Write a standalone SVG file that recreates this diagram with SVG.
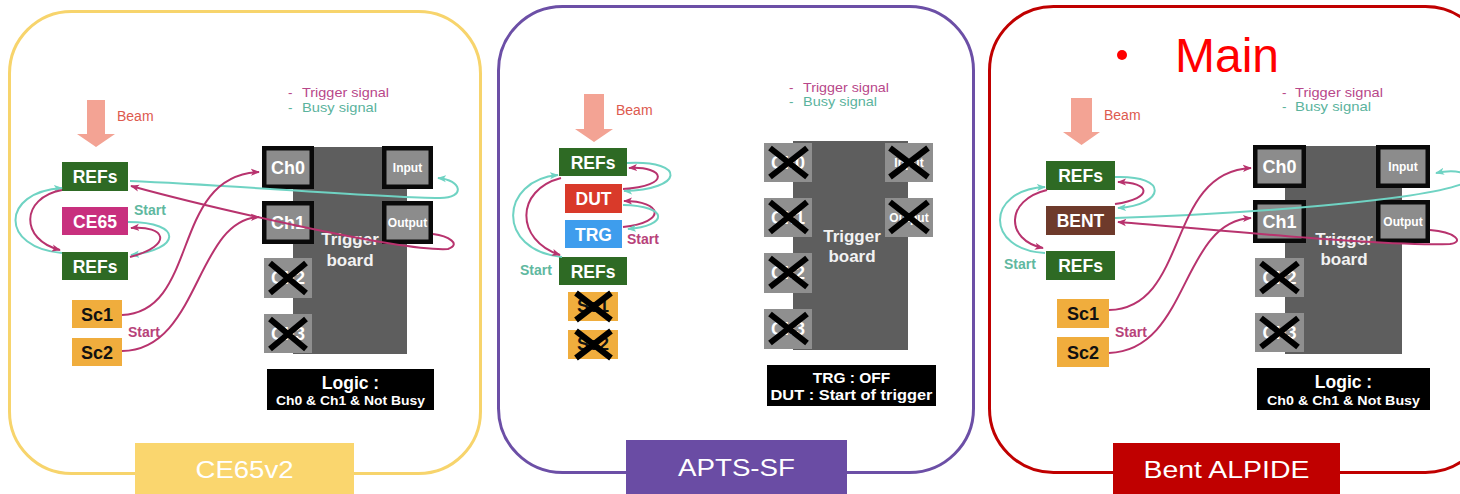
<svg xmlns="http://www.w3.org/2000/svg" width="1460" height="494" viewBox="0 0 1460 494">
  <defs>
    <style>
      text { font-family: "Liberation Sans", Arial, sans-serif; }
      .frame { fill: #ffffff; stroke-width: 3; }
      .title { fill: #ffffff; font-size: 24px; text-anchor: middle; }
      .beam { fill: #f3a394; }
      .beamt { fill: #dd5a4e; font-size: 14px; }
      .nodet { fill: #ffffff; font-size: 17.5px; font-weight: bold; text-anchor: middle; }
      .sct { fill: #111111; font-size: 18px; font-weight: bold; text-anchor: middle; }
      .refs { fill: #2e6a24; }
      .sc { fill: #f0ad3d; }
      .board { fill: #5e5e5e; }
      .pin { fill: #8c8c8c; stroke: #0a0a0a; stroke-width: 4.5; }
      .pinx { fill: #8f8f8f; }
      .pint { fill: #ffffff; font-size: 18px; font-weight: bold; text-anchor: middle; }
      .pins { fill: #ffffff; font-size: 12px; font-weight: bold; text-anchor: middle; }
      .cross { stroke: #000000; stroke-width: 6; }
      .boardt { fill: #f2f2f2; font-size: 17px; font-weight: bold; text-anchor: middle; }
      .logic { fill: #000000; }
      .logict { fill: #ffffff; font-weight: bold; text-anchor: middle; }
      .legtrig { fill: #b8478a; font-size: 13.5px; }
      .legbusy { fill: #5bb39d; font-size: 13.5px; }
      .startm { fill: #b8427a; font-size: 14px; font-weight: bold; }
      .startt { fill: #5fb8a0; font-size: 14px; font-weight: bold; }
      .trig { fill: none; stroke: #b8336e; stroke-width: 2; }
      .busy { fill: none; stroke: #6fd3c3; stroke-width: 2; }
      .trig.arr { marker-end: url(#ah-trig); }
      .busy.arr { marker-end: url(#ah-busy); }
    </style>
    <marker id="ah-trig" viewBox="0 0 10 10" refX="9" refY="5" markerWidth="9" markerHeight="9" markerUnits="userSpaceOnUse" orient="auto">
      <path d="M0,1 L10,5 L0,9 L2.5,5 z" fill="#b8336e"/>
    </marker>
    <marker id="ah-busy" viewBox="0 0 10 10" refX="9" refY="5" markerWidth="9" markerHeight="9" markerUnits="userSpaceOnUse" orient="auto">
      <path d="M0,1 L10,5 L0,9 L2.5,5 z" fill="#6fd3c3"/>
    </marker>
  </defs>

  <rect width="1460" height="494" fill="#ffffff"/>

  <!-- ================= CE65v2 panel ================= -->
  <g id="panel-ce65">
    <rect class="frame" x="9.5" y="11.5" width="471" height="462" rx="62" stroke="#f7d46c"/>
    <rect x="135" y="443" width="219" height="51" fill="#fad66e"/>
    <text class="title" x="244.5" y="478" textLength="98" lengthAdjust="spacingAndGlyphs">CE65v2</text>
  </g>

  <g id="p1-beam">
    <polygon class="beam" points="87,100 105,100 105,134 115,134 96,147 77,134 87,134"/>
    <text class="beamt" x="117" y="121">Beam</text>
  </g>
  <g id="p1-legend">
    <text class="legtrig" x="288" y="97">-</text><text class="legtrig" x="302" y="97" textLength="87" lengthAdjust="spacingAndGlyphs">Trigger signal</text>
    <text class="legbusy" x="288" y="112">-</text><text class="legbusy" x="302" y="112" textLength="75" lengthAdjust="spacingAndGlyphs">Busy signal</text>
  </g>
  <g id="p1-refs-top">
    <rect class="refs" x="62" y="162" width="66" height="29"/>
    <text class="nodet" x="95" y="182.5">REFs</text>
  </g>
  <g id="p1-ce65">
    <rect x="62" y="207" width="66" height="28" fill="#c8307e"/>
    <text class="nodet" x="95" y="227.5">CE65</text>
  </g>
  <g id="p1-refs-bottom">
    <rect class="refs" x="62" y="252" width="66" height="28"/>
    <text class="nodet" x="95" y="272.5">REFs</text>
  </g>
  <g id="p1-sc1">
    <rect class="sc" x="72" y="300" width="50" height="28"/>
    <text class="sct" x="97" y="320.5">Sc1</text>
  </g>
  <g id="p1-sc2">
    <rect class="sc" x="72" y="338" width="50" height="28"/>
    <text class="sct" x="97" y="358.5">Sc2</text>
  </g>
  <g id="p1-trigger-board">
    <rect class="board" x="293" y="147" width="114" height="207"/>
    <rect class="pin" x="264.25" y="148.25" width="47.5" height="38.5"/>
    <text class="pint" x="288" y="174">Ch0</text>
    <rect class="pin" x="384.25" y="148.25" width="46.5" height="38.5"/>
    <text class="pins" x="407.5" y="172">Input</text>
    <rect class="pin" x="264.25" y="203.25" width="47.5" height="38.5"/>
    <text class="pint" x="288" y="229">Ch1</text>
    <rect class="pin" x="384.25" y="203.25" width="46.5" height="38.5"/>
    <text class="pins" x="407.5" y="227" font-size="11">Output</text>
    <text class="boardt" x="350" y="245">Trigger</text>
    <text class="boardt" x="350" y="266">board</text>
    <rect class="pinx" x="264" y="258" width="48" height="40"/>
    <text class="pint" x="288" y="284">Ch2</text>
    <path class="cross" d="M270,263 L306,293 M306,263 L270,293"/>
    <rect class="pinx" x="264" y="314" width="48" height="39"/>
    <text class="pint" x="288" y="340">Ch3</text>
    <path class="cross" d="M270,319 L306,349 M306,319 L270,349"/>
  </g>
  <g id="p1-logic">
    <rect class="logic" x="267" y="369" width="167" height="41"/>
    <text class="logict" x="350.5" y="389" font-size="17.5">Logic :</text>
    <text class="logict" x="350.5" y="404.5" font-size="12.5" textLength="149" lengthAdjust="spacingAndGlyphs">Ch0 &amp; Ch1 &amp; Not Busy</text>
  </g>
  <g id="p1-labels">
    <text class="startt" x="134" y="215">Start</text>
    <text class="startm" x="128" y="337">Start</text>
  </g>

  <!-- ================= APTS-SF panel ================= -->
  <g id="panel-apts">
    <rect class="frame" x="498.5" y="6.5" width="475" height="466" rx="64" stroke="#6c4fa6"/>
    <rect x="626" y="440" width="221" height="54" fill="#6a4ca4"/>
    <text class="title" x="736.5" y="476" textLength="117" lengthAdjust="spacingAndGlyphs">APTS-SF</text>
  </g>

  <g id="p2-beam">
    <polygon class="beam" points="584,94 604,94 604,129 613,129 594,142 575,129 584,129"/>
    <text class="beamt" x="616" y="115">Beam</text>
  </g>
  <g id="p2-legend">
    <text class="legtrig" x="789" y="92">-</text><text class="legtrig" x="803" y="92" textLength="86" lengthAdjust="spacingAndGlyphs">Trigger signal</text>
    <text class="legbusy" x="789" y="106">-</text><text class="legbusy" x="803" y="106" textLength="74" lengthAdjust="spacingAndGlyphs">Busy signal</text>
  </g>
  <g id="p2-refs-top">
    <rect class="refs" x="559" y="148" width="68" height="28"/>
    <text class="nodet" x="593" y="168.5">REFs</text>
  </g>
  <g id="p2-dut">
    <rect x="565" y="184" width="57" height="29" fill="#d93a2a"/>
    <text class="nodet" x="593.5" y="204.5">DUT</text>
  </g>
  <g id="p2-trg">
    <rect x="565" y="220" width="57" height="28" fill="#3e9ded"/>
    <text class="nodet" x="593.5" y="240.5">TRG</text>
  </g>
  <g id="p2-refs-bottom">
    <rect class="refs" x="559" y="257" width="68" height="28"/>
    <text class="nodet" x="593" y="277.5">REFs</text>
  </g>
  <g id="p2-sc1">
    <rect class="sc" x="568" y="292" width="50" height="29"/>
    <text class="sct" x="593" y="312">Sc1</text>
    <path class="cross" d="M576,293 L611,320 M611,293 L576,320"/>
  </g>
  <g id="p2-sc2">
    <rect class="sc" x="568" y="330" width="50" height="29"/>
    <text class="sct" x="593" y="350">Sc2</text>
    <path class="cross" d="M576,331 L611,358 M611,331 L576,358"/>
  </g>
  <g id="p2-trigger-board">
    <rect class="board" x="793" y="141" width="115" height="209"/>
    <rect class="pinx" x="764" y="143" width="48" height="39"/>
    <text class="pint" x="788" y="169">Ch0</text>
    <path class="cross" d="M770,148 L807,177 M807,148 L770,177"/>
    <rect class="pinx" x="885" y="143" width="48" height="39"/>
    <text class="pins" x="909" y="167">Input</text>
    <path class="cross" d="M890,148 L928,177 M928,148 L890,177"/>
    <rect class="pinx" x="764" y="198" width="48" height="39"/>
    <text class="pint" x="788" y="224">Ch1</text>
    <path class="cross" d="M770,202 L807,232 M807,202 L770,232"/>
    <rect class="pinx" x="885" y="198" width="48" height="39"/>
    <text class="pins" x="909" y="222" font-size="11">Output</text>
    <path class="cross" d="M890,202 L928,232 M928,202 L890,232"/>
    <rect class="pinx" x="764" y="253" width="48" height="40"/>
    <text class="pint" x="788" y="279">Ch2</text>
    <path class="cross" d="M770,258 L807,287 M807,258 L770,287"/>
    <rect class="pinx" x="764" y="309" width="48" height="40"/>
    <text class="pint" x="788" y="335">Ch3</text>
    <path class="cross" d="M770,314 L807,343 M807,314 L770,343"/>
    <text class="boardt" x="852" y="242" font-size="18">Trigger</text>
    <text class="boardt" x="852" y="262" font-size="18">board</text>
  </g>
  <g id="p2-logic">
    <rect class="logic" x="767" y="365" width="169" height="41"/>
    <text class="logict" x="851.5" y="383" font-size="15.5">TRG : OFF</text>
    <text class="logict" x="851.5" y="400" font-size="15.5" textLength="162" lengthAdjust="spacingAndGlyphs">DUT : Start of trigger</text>
  </g>
  <g id="p2-labels">
    <text class="startm" x="627" y="244">Start</text>
    <text class="startt" x="520" y="275">Start</text>
  </g>

  <!-- ================= Bent ALPIDE panel ================= -->
  <g id="panel-bent">
    <rect class="frame" x="989.5" y="6.5" width="500" height="466" rx="64" stroke="#c00000"/>
    <rect x="1113" y="443" width="227" height="51" fill="#c00000"/>
    <text class="title" x="1226.5" y="478" textLength="166" lengthAdjust="spacingAndGlyphs">Bent ALPIDE</text>
  </g>
  <g id="p3-main">
    <circle cx="1122" cy="55" r="5" fill="#ff0000"/>
    <text x="1175" y="72" font-size="48" fill="#ff0000">Main</text>
  </g>

  <g id="p3-beam">
    <polygon class="beam" points="1071,98 1092,98 1092,132 1100,132 1081.5,145 1063,132 1071,132"/>
    <text class="beamt" x="1104" y="120">Beam</text>
  </g>
  <g id="p3-legend">
    <text class="legtrig" x="1282" y="97">-</text><text class="legtrig" x="1295" y="97" textLength="88" lengthAdjust="spacingAndGlyphs">Trigger signal</text>
    <text class="legbusy" x="1282" y="111">-</text><text class="legbusy" x="1295" y="111" textLength="76" lengthAdjust="spacingAndGlyphs">Busy signal</text>
  </g>
  <g id="p3-refs-top">
    <rect class="refs" x="1046" y="161" width="69" height="29"/>
    <text class="nodet" x="1080.5" y="181.5">REFs</text>
  </g>
  <g id="p3-bent">
    <rect x="1046" y="206" width="69" height="29" fill="#6e3a2b"/>
    <text class="nodet" x="1080.5" y="226.5">BENT</text>
  </g>
  <g id="p3-refs-bottom">
    <rect class="refs" x="1046" y="251" width="69" height="29"/>
    <text class="nodet" x="1080.5" y="271.5">REFs</text>
  </g>
  <g id="p3-sc1">
    <rect class="sc" x="1057" y="299" width="52" height="29"/>
    <text class="sct" x="1083" y="319.5">Sc1</text>
  </g>
  <g id="p3-sc2">
    <rect class="sc" x="1057" y="337" width="52" height="30"/>
    <text class="sct" x="1083" y="358.5">Sc2</text>
  </g>
  <g id="p3-trigger-board">
    <rect class="board" x="1285" y="146" width="117" height="208"/>
    <rect class="pin" x="1255.25" y="147.25" width="48.5" height="38.5"/>
    <text class="pint" x="1279.5" y="173">Ch0</text>
    <rect class="pin" x="1378.25" y="147.25" width="49.5" height="38.5"/>
    <text class="pins" x="1403" y="171">Input</text>
    <rect class="pin" x="1255.25" y="202.25" width="48.5" height="38.5"/>
    <text class="pint" x="1279.5" y="228">Ch1</text>
    <rect class="pin" x="1378.25" y="202.25" width="49.5" height="38.5"/>
    <text class="pins" x="1403" y="226" font-size="11">Output</text>
    <text class="boardt" x="1344" y="245">Trigger</text>
    <text class="boardt" x="1344" y="265">board</text>
    <rect class="pinx" x="1255" y="258" width="49" height="39"/>
    <text class="pint" x="1279.5" y="284">Ch2</text>
    <path class="cross" d="M1261,263 L1298,292 M1298,263 L1261,292"/>
    <rect class="pinx" x="1255" y="313" width="49" height="39"/>
    <text class="pint" x="1279.5" y="339">Ch3</text>
    <path class="cross" d="M1261,318 L1298,347 M1298,318 L1261,347"/>
  </g>
  <g id="p3-logic">
    <rect class="logic" x="1257" y="368" width="173" height="42"/>
    <text class="logict" x="1343.5" y="388" font-size="17.5">Logic :</text>
    <text class="logict" x="1343.5" y="404.5" font-size="12.5" textLength="153" lengthAdjust="spacingAndGlyphs">Ch0 &amp; Ch1 &amp; Not Busy</text>
  </g>
  <g id="p3-labels">
    <text class="startt" x="1004" y="269">Start</text>
    <text class="startm" x="1115" y="337">Start</text>
  </g>

  <!-- ================= signal connectors ================= -->
  <g id="connectors">
    <!-- CE65v2 -->
    <path class="busy arr" d="M130,181 C250,186 380,198 440,198 C466,198 462,180 438,178"/>
    <path class="trig arr" d="M433,234 C448,236 462,244 448,249 C400,252 200,205 131,186"/>
    <path class="busy arr" d="M62,253 C0,248 0,192 62,188"/>
    <path class="trig arr" d="M62,190 C20,198 20,240 60,250"/>
    <path class="busy arr" d="M128,222 C185,222 180,250 131,255"/>
    <path class="trig arr" d="M130,257 C175,245 165,225 131,228"/>
    <path class="trig arr" d="M122,315 C200,312 170,175 259,172"/>
    <path class="trig arr" d="M122,351 C200,350 195,220 259,217"/>

    <!-- APTS-SF -->
    <path class="busy arr" d="M627,163 C688,160 683,190 624,191"/>
    <path class="trig arr" d="M623,189 C672,186 665,166 629,168"/>
    <path class="trig arr" d="M623,227 C668,222 662,201 624,201"/>
    <path class="busy arr" d="M623,205 C670,206 668,226 628,229"/>
    <path class="busy arr" d="M562,257 C495,250 500,180 558,175"/>
    <path class="trig arr" d="M561,178 C515,190 515,240 560,255"/>

    <!-- Bent ALPIDE -->
    <path class="busy arr" d="M1115,177 C1170,175 1165,205 1118,208"/>
    <path class="trig arr" d="M1115,204 C1155,198 1150,182 1118,182"/>
    <path class="busy arr" d="M1045,253 C985,250 985,190 1045,187"/>
    <path class="trig arr" d="M1047,190 C1005,200 1005,240 1043,248"/>
    <path class="busy arr" d="M1115,218 C1250,214 1420,200 1462,184 C1478,176 1460,168 1436,173"/>
    <path class="trig arr" d="M1430,230 C1455,232 1465,242 1450,244 C1380,247 1200,228 1118,222"/>
    <path class="trig arr" d="M1109,310 C1190,308 1165,172 1251,168"/>
    <path class="trig arr" d="M1109,353 C1190,350 1180,222 1251,218"/>
  </g>
</svg>
